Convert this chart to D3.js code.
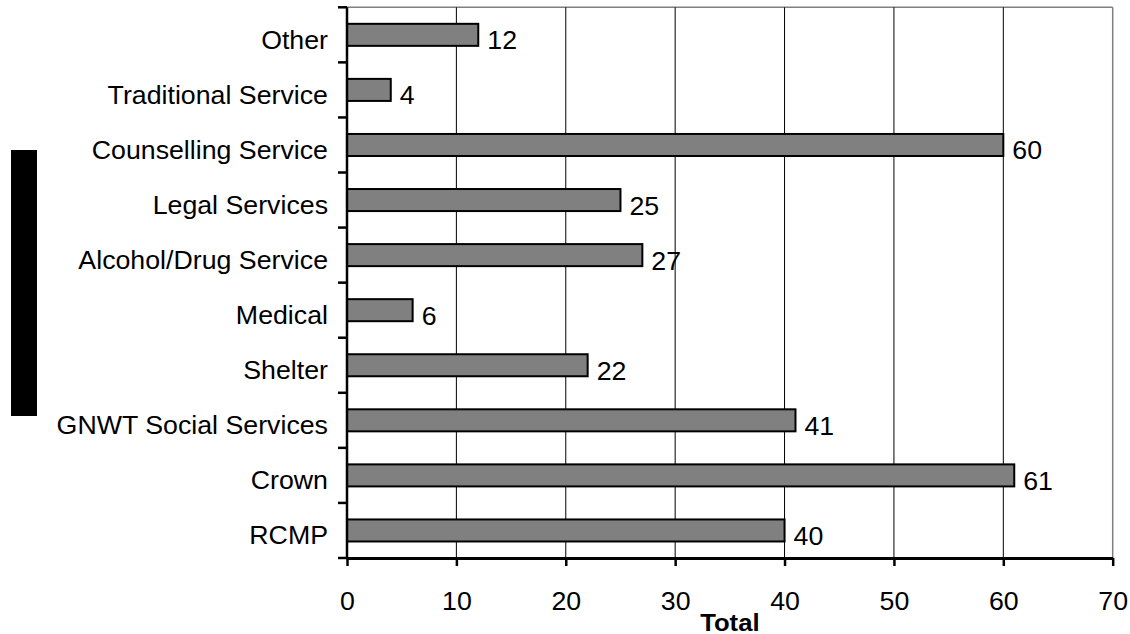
<!DOCTYPE html>
<html>
<head>
<meta charset="utf-8">
<script src="https://cdn.jsdelivr.net/npm/d3@7/dist/d3.min.js"></script>
<style>
  html, body { margin: 0; padding: 0; background: #fff; }
  svg { display: block; font-family: Arial, "Liberation Sans", sans-serif; }
</style>
</head>
<body>
<svg id="chart" width="1130" height="634"></svg>
<script>
// Referral agencies, listed top to bottom
const categories = [
  "Other", "Traditional Service", "Counselling Service", "Legal Services",
  "Alcohol/Drug Service", "Medical", "Shelter", "GNWT Social Services",
  "Crown", "RCMP"
];
const totals = [12, 4, 60, 25, 27, 6, 22, 41, 61, 40];
const xTicks = [0, 10, 20, 30, 40, 50, 60, 70];
const axisTitle = "Total";

const svg = d3.select("#chart");
const W = 1130, H = 634;
const margin = { left: 347, right: W - 1112.7, top: 7.3, bottom: H - 558 };
const STRETCH = 1.07; // text is drawn slightly wide

const x = d3.scaleLinear().domain([0, 70]).range([margin.left, W - margin.right]);
const y = d3.scaleBand().domain(categories).range([margin.top, H - margin.bottom])
  .paddingInner(0.6).paddingOuter(0.3);

// place a text node at (px, py) with horizontal stretch
function place(sel, px, py) {
  sel.attr("transform", (d, i) => `translate(${px(d, i)},${py(d, i)}) scale(${STRETCH},1)`);
}

// decorative black block at far left
svg.append("rect").attr("x", 11).attr("y", 150).attr("width", 26).attr("height", 266).attr("fill", "#000");

// plot frame (top and right edges in grey)
svg.append("line").attr("x1", x(0)).attr("x2", x(70)).attr("y1", margin.top).attr("y2", margin.top)
  .attr("stroke", "#808080").attr("stroke-width", 1.5);
svg.append("line").attr("x1", x(70)).attr("x2", x(70)).attr("y1", margin.top).attr("y2", H - margin.bottom)
  .attr("stroke", "#808080").attr("stroke-width", 1.5);

// vertical gridlines
svg.append("g").selectAll("line").data(xTicks.filter(d => d > 0 && d < 70)).join("line")
  .attr("x1", d => x(d)).attr("x2", d => x(d))
  .attr("y1", margin.top).attr("y2", H - margin.bottom)
  .attr("stroke", "#000").attr("stroke-width", 1);

// bars
svg.append("g").selectAll("rect").data(categories).join("rect")
  .attr("x", x(0))
  .attr("y", d => y(d))
  .attr("width", (d, i) => x(totals[i]) - x(0))
  .attr("height", y.bandwidth())
  .attr("fill", "#808080")
  .attr("stroke", "#000")
  .attr("stroke-width", 2);

// value labels
svg.append("g").selectAll("text").data(categories).join("text")
  .attr("font-size", 25)
  .attr("fill", "#000")
  .text((d, i) => totals[i])
  .call(place, (d, i) => x(totals[i]) + 9, d => y(d) + y.bandwidth() / 2 + 14.5);

// x axis
const xAxis = d3.axisBottom(x).tickValues(xTicks).tickSize(8).tickPadding(26).tickSizeOuter(0);
const gx = svg.append("g").attr("transform", `translate(0,${H - margin.bottom})`).call(xAxis);
gx.select(".domain").attr("stroke", "#000").attr("stroke-width", 3);
gx.selectAll(".tick line").attr("stroke", "#000").attr("stroke-width", 2.5);
gx.selectAll(".tick text")
  .attr("font-size", 25)
  .attr("font-family", "Arial, 'Liberation Sans', sans-serif")
  .attr("fill", "#000")
  .attr("transform", `scale(${STRETCH},1)`)
  .attr("x", 0);

// y axis: ticks sit on band boundaries
const boundaries = d3.range(categories.length + 1).map(i => margin.top + i * y.step());
const gy = svg.append("g");
gy.append("line").attr("x1", x(0)).attr("x2", x(0)).attr("y1", margin.top).attr("y2", H - margin.bottom)
  .attr("stroke", "#000").attr("stroke-width", 2.5);
gy.selectAll("line.tk").data(boundaries).join("line").attr("class", "tk")
  .attr("x1", x(0) - 9).attr("x2", x(0)).attr("y1", d => d).attr("y2", d => d)
  .attr("stroke", "#000").attr("stroke-width", 2.5);
gy.selectAll("text").data(categories).join("text")
  .attr("text-anchor", "end")
  .attr("font-size", 25)
  .attr("fill", "#000")
  .text(d => d)
  .call(place, () => x(0) - 19, d => y(d) + y.bandwidth() / 2 + 14);

// axis title
svg.append("text")
  .attr("text-anchor", "middle")
  .attr("font-size", 24)
  .attr("font-weight", "bold")
  .attr("fill", "#000")
  .text(axisTitle)
  .call(place, () => (x(0) + x(70)) / 2, () => 630.5);
</script>
</body>
</html>
